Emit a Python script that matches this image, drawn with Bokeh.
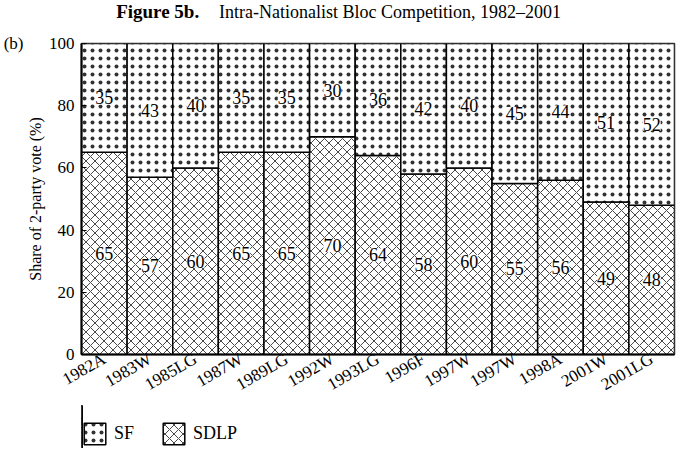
from bokeh.plotting import figure
from bokeh.models import (ColumnDataSource, Range1d, FixedTicker, Legend, LegendItem,
                          LabelSet, Label, LinearAxis)
from bokeh.layouts import column
from bokeh.embed import file_html
from bokeh.resources import INLINE

elections = ["1982A", "1983W", "1985LG", "1987W", "1989LG", "1992W", "1993LG",
             "1996F", "1997W", "1997W", "1998A", "2001W", "2001LG"]
sdlp = [65, 57, 60, 65, 65, 70, 64, 58, 60, 55, 56, 49, 48]
sf = [35, 43, 40, 35, 35, 30, 36, 42, 40, 45, 44, 51, 52]
y_ticks = [0, 20, 40, 60, 80, 100]
series_names = ["SF", "SDLP"]

xs = list(range(1, len(elections) + 1))
sdlp_mid = [v / 2 for v in sdlp]
sf_top = [a + b for a, b in zip(sdlp, sf)]
sf_mid = [a + b / 2 for a, b in zip(sdlp, sf)]

src = ColumnDataSource(dict(x=xs, sdlp=sdlp, sf=sf, sf_top=sf_top,
                            sdlp_mid=sdlp_mid, sf_mid=sf_mid,
                            sdlp_txt=[str(v) for v in sdlp],
                            sf_txt=[str(v) for v in sf]))

FONT = "Liberation Serif"
W = 676
LEFT, RIGHT = 75, 2
SDLP_STYLE = dict(fill_color="white", line_color="black", line_width=1.5,
                  hatch_pattern="diagonal_cross", hatch_scale=9,
                  hatch_weight=0.9, hatch_color="#333333")
SF_STYLE = dict(fill_color="white", line_color="black", line_width=1.5,
                hatch_pattern="dot", hatch_scale=8, hatch_weight=0.6,
                hatch_color="#333333")

# ---------------- title strip ----------------
t = figure(width=W, height=30, output_backend="svg", toolbar_location=None,
           x_range=Range1d(LEFT, W - RIGHT), y_range=Range1d(0, 30),
           x_axis_type=None, y_axis_type=None, min_border=0,
           min_border_left=LEFT, min_border_right=RIGHT)
t.grid.visible = False
t.outline_line_color = None
t.add_layout(Label(x=110, y=19, text="Figure 5b.", text_font=FONT,
                   text_font_size="19px", text_font_style="bold",
                   text_baseline="middle", text_color="black"))
t.add_layout(Label(x=214, y=19,
                   text="Intra-Nationalist Bloc Competition, 1982–2001",
                   text_font=FONT, text_font_size="18px",
                   text_baseline="middle", text_color="black"))

# ---------------- main chart ----------------
p = figure(width=W, height=375, output_backend="svg", toolbar_location=None,
           x_range=Range1d(0.5, len(elections) + 0.5), y_range=Range1d(0, 100),
           min_border_left=LEFT, min_border_right=RIGHT, min_border_top=13,
           min_border_bottom=46)
p.grid.visible = False
p.outline_line_color = "#333333"
p.outline_line_width = 1.5
p.background_fill_color = "white"

p.vbar(x="x", bottom=0, top="sdlp", width=1.0, source=src, **SDLP_STYLE)
p.vbar(x="x", bottom="sdlp", top="sf_top", width=1.0, source=src, **SF_STYLE)

for ycol, tcol in (("sdlp_mid", "sdlp_txt"), ("sf_mid", "sf_txt")):
    p.add_layout(LabelSet(x="x", y=ycol, text=tcol, source=src,
                          text_align="center", text_baseline="middle",
                          text_font=FONT, text_font_size="18px",
                          text_color="black",
                          background_fill_color="white"))

p.yaxis.ticker = FixedTicker(ticks=y_ticks)
p.yaxis.major_tick_in = 5
p.yaxis.major_tick_out = 0
p.yaxis.minor_tick_line_color = None
p.yaxis.axis_line_width = 2
p.yaxis.major_label_text_font = FONT
p.yaxis.major_label_text_font_size = "17px"
p.yaxis.major_label_text_color = "black"
p.yaxis.major_label_standoff = 7
p.yaxis.axis_label = "Share of 2-party vote (%)"
p.yaxis.axis_label_text_font = FONT
p.yaxis.axis_label_text_font_size = "16px"
p.yaxis.axis_label_text_font_style = "normal"
p.yaxis.axis_label_text_color = "black"
p.yaxis.axis_label_standoff = 2

letter_axis = LinearAxis(ticker=FixedTicker(ticks=[100]),
                         major_label_overrides={100: "(b)"},
                         axis_line_color=None, major_tick_line_color=None,
                         minor_tick_line_color=None, major_label_standoff=0,
                         major_tick_in=0, major_tick_out=0,
                         major_label_text_font=FONT,
                         major_label_text_font_size="17px",
                         major_label_text_color="black")
p.add_layout(letter_axis, "left")

p.xaxis.ticker = FixedTicker(ticks=xs)
p.xaxis.major_label_overrides = {x: lab for x, lab in zip(xs, elections)}
p.xaxis.major_label_orientation = 0.52
p.xaxis.major_tick_in = 0
p.xaxis.major_tick_out = 0
p.xaxis.minor_tick_line_color = None
p.xaxis.axis_line_width = 2
p.xaxis.major_label_text_font = FONT
p.xaxis.major_label_text_font_size = "17px"
p.xaxis.major_label_text_color = "black"
p.xaxis.major_label_standoff = 3

# ---------------- legend strip ----------------
# the swatch renderers use the chart data but sit outside this strip's view
lg = figure(width=W, height=43, output_backend="svg", toolbar_location=None,
            x_range=Range1d(14, 15), y_range=Range1d(0, 100),
            x_axis_type=None, y_axis_type=None, min_border=0,
            min_border_left=LEFT, min_border_right=RIGHT)
lg.grid.visible = False
lg.outline_line_color = None
r_sf = lg.vbar(x="x", bottom="sdlp", top="sf_top", width=1, source=src, **SF_STYLE)
r_sdlp = lg.vbar(x="x", bottom=0, top="sdlp", width=1, source=src, **SDLP_STYLE)
legend = Legend(items=[LegendItem(label=series_names[0], renderers=[r_sf]),
                       LegendItem(label=series_names[1], renderers=[r_sdlp])],
                orientation="horizontal", location=(0, 1),
                glyph_width=27, glyph_height=27, spacing=26,
                label_standoff=6,
                label_text_font=FONT, label_text_font_size="18px",
                label_text_color="black",
                border_line_color=None, background_fill_alpha=0,
                margin=0, padding=0)
lg.add_layout(legend)

layout = column(t, p, lg, spacing=0)
open("out.html", "w").write(file_html(layout, INLINE))
